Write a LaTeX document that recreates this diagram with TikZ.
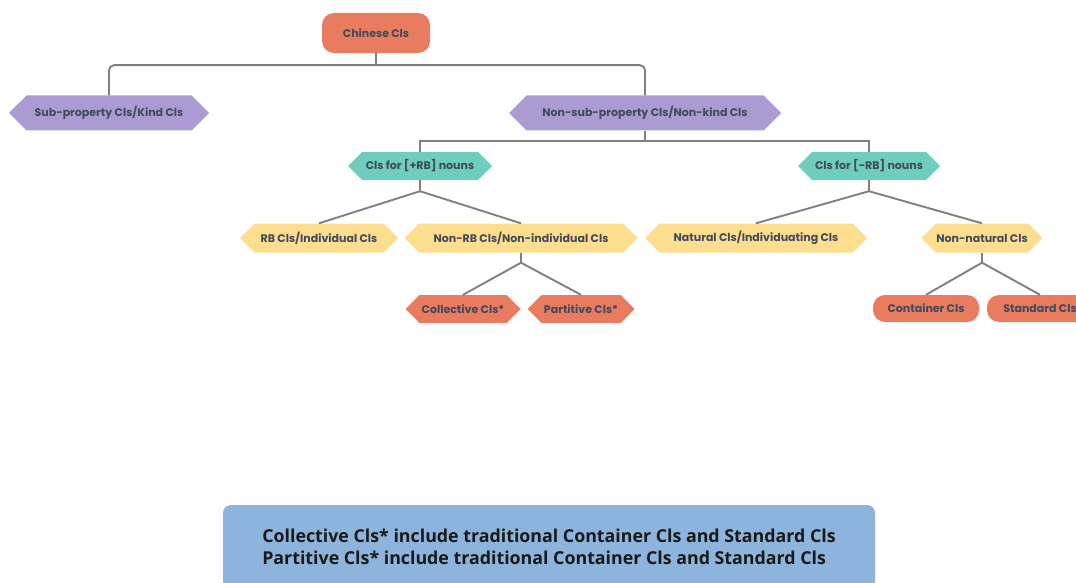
\documentclass[tikz,border=0pt]{standalone}
\usepackage{fontspec}
\setmainfont{Poppins}
\newfontfamily\notefont{Open Sans}
\usetikzlibrary{shapes.symbols}
\definecolor{corange}{HTML}{E97C5F}
\definecolor{cpurple}{HTML}{AC9BD2}
\definecolor{cteal}{HTML}{6ECDBC}
\definecolor{cyellow}{HTML}{FDDD8E}
\definecolor{cblue}{HTML}{8DB4DC}
\definecolor{ctext}{HTML}{3F4A5C}
\definecolor{cline}{HTML}{808080}
\tikzset{
  lbl/.style={text=ctext, font=\bfseries\fontsize{11}{13}\selectfont, inner sep=0pt},
  hexa/.style={lbl, shape=signal, signal to=west and east, signal pointer angle=90},
  rbox/.style={lbl, shape=rectangle, rounded corners=12pt},
  conn/.style={draw=cline, line width=1.9pt},
}
\begin{document}
\begin{tikzpicture}[x=1pt,y=-1pt]
\clip (0,0) rectangle (1076,583);
\fill[white] (0,0) rectangle (1076,583);
% nodes
\node[rbox, fill=corange, minimum width=108pt, minimum height=40pt] (chin) at (376,33) {Chinese Cls};
\node[hexa, fill=cpurple, minimum width=200pt, minimum height=35pt] (sub) at (109,113) {Sub-property Cls/Kind Cls};
\node[hexa, fill=cpurple, minimum width=272pt, minimum height=35pt] (nonsub) at (645,113) {Non-sub-property Cls/Non-kind Cls};
\node[hexa, fill=cteal, minimum width=144pt, minimum height=28pt] (prb) at (420,166) {Cls for [+RB] nouns};
\node[hexa, fill=cteal, minimum width=142pt, minimum height=28pt] (mrb) at (869,166) {Cls for [-RB] nouns};
\node[hexa, fill=cyellow, minimum width=158pt, minimum height=29pt] (rb) at (319,238) {RB Cls/Individual Cls};
\node[hexa, fill=cyellow, minimum width=233pt, minimum height=29pt] (nonrb) at (521,238) {Non-RB Cls/Non-individual Cls};
\node[hexa, fill=cyellow, minimum width=222pt, minimum height=29pt] (nat) at (756,238) {Natural Cls/Individuating Cls};
\node[hexa, fill=cyellow, minimum width=121pt, minimum height=29pt] (nonnat) at (982,238) {Non-natural Cls};
\node[hexa, fill=corange, minimum width=115pt, minimum height=28pt] (coll) at (463,309) {Collective Cls*};
\node[hexa, fill=corange, minimum width=107pt, minimum height=28pt] (part) at (581,309) {Partitive Cls*};
\node[rbox, fill=corange, minimum width=106pt, minimum height=27pt] (cont) at (926,308.5) {Container Cls};
\node[rbox, fill=corange, minimum width=106pt, minimum height=27pt] (stan) at (1040,308.5) {Standard Cls};
\node[fill=cblue, rounded corners=8pt, minimum width=652pt, minimum height=84pt, inner sep=0pt,
      align=left, text=black!90, font=\notefont\bfseries\fontsize{17.8}{22}\selectfont] (note) at (549,547)
  {Collective Cls* include traditional Container Cls and Standard Cls\\
   Partitive Cls* include traditional Container Cls and Standard Cls};
% connectors
\draw[conn] (chin.south) -- ++(0,12) coordinate (j1);
\draw[conn, rounded corners=5pt] (sub.north) |- (j1) -| (nonsub.north);
\draw[conn] (nonsub.south) -- ++(0,10) coordinate (j2);
\draw[conn] (prb.north) |- (j2) -| (mrb.north);
\draw[conn] (prb.south) -- ++(0,11) coordinate (j3);
\draw[conn] (rb.north) -- (j3) -- (nonrb.north);
\draw[conn] (mrb.south) -- ++(0,11) coordinate (j4);
\draw[conn] (nat.north) -- (j4) -- (nonnat.north);
\draw[conn] (nonrb.south) -- ++(0,10) coordinate (j5);
\draw[conn] (coll.north) -- (j5) -- (part.north);
\draw[conn] (nonnat.south) -- ++(0,10) coordinate (j6);
\draw[conn] (cont.north) -- (j6) -- (stan.north);
\end{tikzpicture}
\end{document}
